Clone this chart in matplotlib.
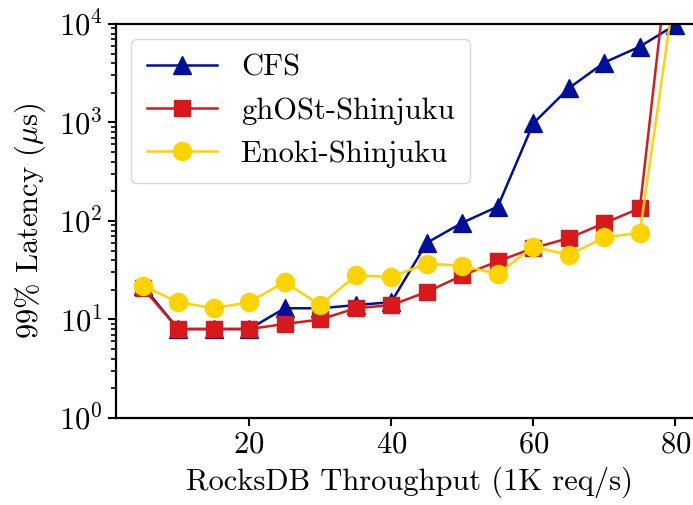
import matplotlib
matplotlib.use("Agg")
import matplotlib.pyplot as plt

plt.rcParams['font.family'] = 'cmr10'
plt.rcParams['mathtext.fontset'] = 'cm'
plt.rcParams['axes.formatter.use_mathtext'] = True

throughput = [5, 10, 15, 20, 25, 30, 35, 40, 45, 50, 55, 60, 65, 70, 75, 80]
cfs = [22, 8, 8, 8, 13, 13, 14, 15, 60, 96, 140, 980, 2230, 4060, 5900, 9800]
ghost = [21, 8, 8, 8, 9, 10, 13, 14, 19, 28, 39, 53, 67, 95, 135, 200000]
enoki = [22, 15, 13, 15, 24, 14, 28, 27, 37, 35, 29, 55, 45, 68, 76, 25000]

fig = plt.figure(figsize=(6.93, 5.05), dpi=100)
ax = fig.add_axes([0.1674, 0.1723, 0.8456, 0.7802])

ax.plot(throughput, cfs, marker='^', color='#000f99', linewidth=1.8, markersize=13, label='CFS')
ax.plot(throughput, ghost, marker='s', color='#d7191c', linewidth=1.8, markersize=12, label='ghOSt-Shinjuku')
ax.plot(throughput, enoki, marker='o', color='#ffd300', linewidth=1.8, markersize=13, label='Enoki-Shinjuku')

ax.set_yscale('log')
ax.set_ylim(1, 1e4)
ax.set_xlim(1.25, 83.75)
ax.set_xticks([20, 40, 60, 80])
ax.tick_params(labelsize=22, width=1.5, length=6)
ax.tick_params(which='minor', width=1.2, length=3.5)
for s in ax.spines.values():
    s.set_linewidth(1.6)

ax.set_xlabel('RocksDB Throughput (1K req/s)', fontsize=22, labelpad=6)
ax.set_ylabel(r'99% Latency ($\mu$s)', fontsize=22, labelpad=8)
ax.legend(loc='upper left', fontsize=22, framealpha=0.8, handlelength=2.3, borderpad=0.5)

fig.savefig('out.png', dpi=100)
